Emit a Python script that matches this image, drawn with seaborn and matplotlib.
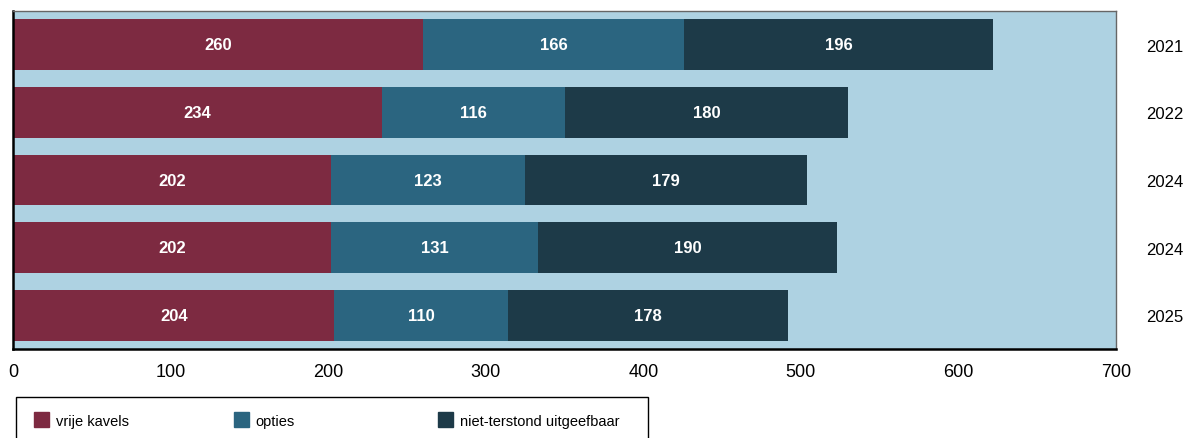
import matplotlib
matplotlib.use("Agg")
import matplotlib.pyplot as plt
import seaborn as sb
import pandas as pd
from matplotlib.patches import Patch, Rectangle

years = ["2021", "2022", "2024", "2024", "2025"]
vrije_kavels = [260, 234, 202, 202, 204]
opties = [166, 116, 123, 131, 110]
niet_terstond = [196, 180, 179, 190, 178]

series_names = ["vrije kavels", "opties", "niet-terstond uitgeefbaar"]
colors = ["#7d2a41", "#2b6580", "#1d3a48"]
background = "#aed2e2"

sb.set_style("white")
plt.rcParams["font.family"] = ["Liberation Sans", "DejaVu Sans"]
plt.rcParams["text.color"] = "black"
plt.rcParams["xtick.color"] = "black"
plt.rcParams["ytick.color"] = "black"

W, H = 1186, 439

rows = [str(i) for i in range(len(years))]
df = pd.DataFrame({
    "row": rows,
    "vrije": vrije_kavels,
    "opties": opties,
    "niet": niet_terstond,
})
df["cum1"] = df["vrije"]
df["cum2"] = df["vrije"] + df["opties"]
df["cum3"] = df["cum2"] + df["niet"]

fig = plt.figure(figsize=(W / 100, H / 100), dpi=100)
ax = fig.add_axes([13 / W, 1 - 350 / H, 1103 / W, 338 / H])
ax.set_facecolor(background)

# stacked by drawing cumulative totals from longest to shortest
for col, color in zip(["cum3", "cum2", "cum1"], colors[::-1]):
    sb.barplot(data=df, x=col, y="row", order=rows, orient="h",
               color=color, width=0.75, saturation=1, linewidth=0, ax=ax)

segments = [("vrije", None), ("opties", "cum1"), ("niet", "cum2")]
for i in range(len(rows)):
    for col, start in segments:
        left = 0 if start is None else df[start][i]
        ax.text(left + df[col][i] / 2, i, str(df[col][i]),
                ha="center", va="center", color="white",
                fontsize=12, fontweight="bold")

ax.set_xlim(0, 700)
ax.set_ylim(4.5, -0.5)
ax.set_xticks(range(0, 701, 100))
ax.set_yticks(range(len(years)))
ax.set_yticklabels(years)
ax.yaxis.tick_right()
ax.tick_params(axis="y", length=0, pad=22, labelsize=12)
ax.tick_params(axis="x", length=0, pad=10, labelsize=13)
ax.set_xlabel("")
ax.set_ylabel("")

for side in ["left", "bottom"]:
    ax.spines[side].set_color("black")
    ax.spines[side].set_linewidth(1.8)
for side in ["top", "right"]:
    ax.spines[side].set_color("#666666")
    ax.spines[side].set_linewidth(1.0)

# legend: framed box below the plot, one entry per fixed slot
fig.add_artist(Rectangle((16 / W, -0.05), 632 / W, 0.05 + 1 - 398 / H,
                         transform=fig.transFigure, facecolor="white",
                         edgecolor="black", linewidth=1.0))
slots = [34, 234, 438]
for name, color, xpos in zip(series_names, colors, slots):
    fig.legend([Patch(facecolor=color, edgecolor=color)], [name],
               loc="center left", bbox_to_anchor=(xpos / W, 1 - 421 / H),
               frameon=False, fontsize=10.5, handlelength=1.0,
               handleheight=1.2, handletextpad=0.5, borderpad=0,
               borderaxespad=0)

fig.savefig("out.png", dpi=100)
